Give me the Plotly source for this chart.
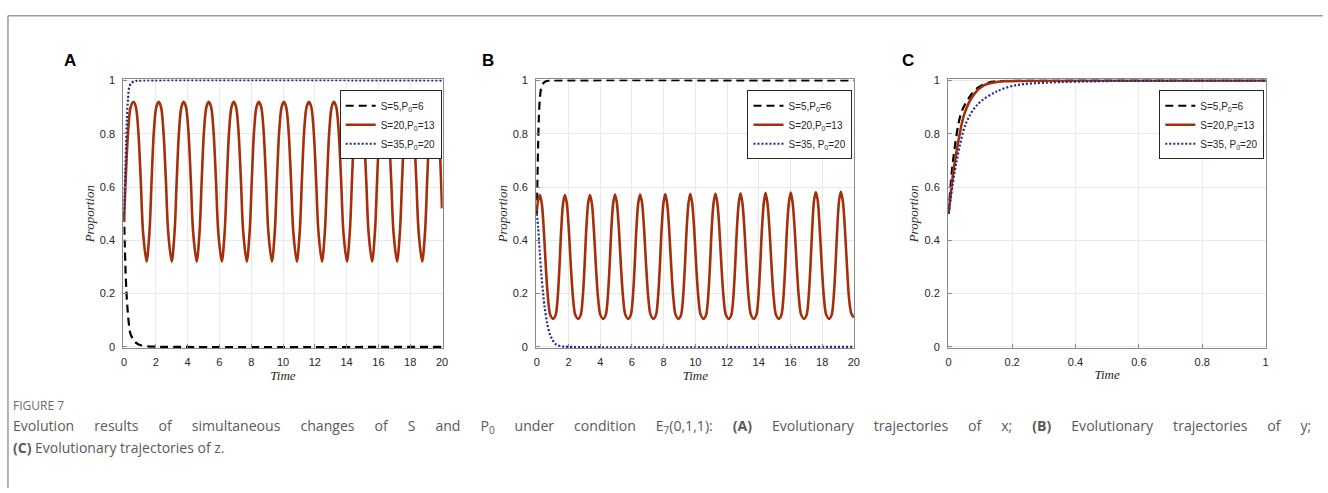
import plotly.graph_objects as go

W, H = 1328, 493

# ---------------- data ----------------
# Panel A : trajectories of x, Time 0..20
a_black_t = [0, 0.05, 0.1, 0.15, 0.2, 0.3, 0.4, 0.6, 0.8, 1.0, 1.5, 2.0, 20]
a_black_v = [0.5, 0.38, 0.28, 0.21, 0.16, 0.09, 0.05, 0.025, 0.013, 0.007, 0.002, 0.0005, 0]

a_red_t = [0, 0.10, 0.25, 0.42,
           0.60, 0.75, 0.90, 1.05, 1.20, 1.42, 1.60, 1.74, 1.88, 2.03,
           2.18, 2.33, 2.48, 2.63, 2.78, 3.00, 3.18, 3.32, 3.46, 3.61,
           3.75, 3.90, 4.05, 4.20, 4.35, 4.57, 4.75, 4.89, 5.03, 5.18,
           5.33, 5.48, 5.63, 5.78, 5.93, 6.15, 6.33, 6.47, 6.61, 6.76,
           6.90, 7.05, 7.20, 7.35, 7.50, 7.72, 7.90, 8.04, 8.18, 8.33,
           8.48, 8.63, 8.78, 8.93, 9.08, 9.30, 9.48, 9.62, 9.76, 9.91,
           10.05, 10.20, 10.35, 10.50, 10.65, 10.87, 11.05, 11.19, 11.33, 11.48,
           11.63, 11.78, 11.93, 12.08, 12.23, 12.45, 12.63, 12.77, 12.91, 13.06,
           13.20, 13.35, 13.50, 13.65, 13.80, 14.02, 14.20, 14.34, 14.48, 14.63,
           14.78, 14.93, 15.08, 15.23, 15.38, 15.60, 15.78, 15.92, 16.06, 16.21,
           16.35, 16.50, 16.65, 16.80, 16.95, 17.17, 17.35, 17.49, 17.63, 17.78,
           17.93, 18.08, 18.23, 18.38, 18.53, 18.75, 18.93, 19.07, 19.21, 19.36,
           19.50, 19.65, 19.80, 20.00]
a_red_v = [0.47, 0.62, 0.80, 0.90,
           0.92, 0.90, 0.81, 0.63, 0.43, 0.32, 0.43, 0.63, 0.81, 0.90,
           0.92, 0.90, 0.81, 0.63, 0.43, 0.32, 0.43, 0.63, 0.81, 0.90,
           0.92, 0.90, 0.81, 0.63, 0.43, 0.32, 0.43, 0.63, 0.81, 0.90,
           0.92, 0.90, 0.81, 0.63, 0.43, 0.32, 0.43, 0.63, 0.81, 0.90,
           0.92, 0.90, 0.81, 0.63, 0.43, 0.32, 0.43, 0.63, 0.81, 0.90,
           0.92, 0.90, 0.81, 0.63, 0.43, 0.32, 0.43, 0.63, 0.81, 0.90,
           0.92, 0.90, 0.81, 0.63, 0.43, 0.32, 0.43, 0.63, 0.81, 0.90,
           0.92, 0.90, 0.81, 0.63, 0.43, 0.32, 0.43, 0.63, 0.81, 0.90,
           0.92, 0.90, 0.81, 0.63, 0.43, 0.32, 0.43, 0.63, 0.81, 0.90,
           0.92, 0.90, 0.81, 0.63, 0.43, 0.32, 0.43, 0.63, 0.81, 0.90,
           0.92, 0.90, 0.81, 0.63, 0.43, 0.32, 0.43, 0.63, 0.81, 0.90,
           0.92, 0.90, 0.81, 0.63, 0.43, 0.32, 0.43, 0.63, 0.81, 0.90,
           0.92, 0.90, 0.81, 0.52]

a_blue_t = [0, 0.03, 0.08, 0.13, 0.18, 0.25, 0.33, 0.45, 0.7, 1.2, 20]
a_blue_v = [0.5, 0.57, 0.65, 0.76, 0.85, 0.93, 0.975, 0.99, 0.998, 1, 1]

# Panel B : trajectories of y, Time 0..20
b_black_t = [0, 0.03, 0.08, 0.13, 0.19, 0.27, 0.36, 0.5, 0.7, 1.0, 20]
b_black_v = [0.5, 0.6, 0.75, 0.86, 0.93, 0.97, 0.985, 0.995, 0.999, 1, 1]

b_red_t = [0, 0.08,
           0.19, 0.31, 0.44, 0.57, 0.71, 0.85, 1.03, 1.19, 1.31, 1.43, 1.54, 1.66,
           1.77, 1.89, 2.02, 2.15, 2.29, 2.43, 2.61, 2.77, 2.89, 3.01, 3.12, 3.24,
           3.35, 3.47, 3.60, 3.73, 3.87, 4.01, 4.19, 4.35, 4.47, 4.59, 4.70, 4.82,
           4.93, 5.05, 5.18, 5.31, 5.45, 5.59, 5.77, 5.93, 6.05, 6.17, 6.28, 6.40,
           6.52, 6.64, 6.77, 6.90, 7.04, 7.18, 7.36, 7.52, 7.64, 7.76, 7.87, 7.99,
           8.10, 8.22, 8.35, 8.48, 8.62, 8.76, 8.94, 9.10, 9.22, 9.34, 9.45, 9.57,
           9.68, 9.80, 9.93, 10.06, 10.20, 10.34, 10.52, 10.68, 10.80, 10.92, 11.03, 11.15,
           11.27, 11.39, 11.52, 11.65, 11.79, 11.93, 12.11, 12.27, 12.39, 12.51, 12.62, 12.74,
           12.85, 12.97, 13.10, 13.23, 13.37, 13.51, 13.69, 13.85, 13.97, 14.09, 14.20, 14.32,
           14.43, 14.55, 14.68, 14.81, 14.95, 15.09, 15.27, 15.43, 15.55, 15.67, 15.78, 15.90,
           16.02, 16.14, 16.27, 16.40, 16.54, 16.68, 16.86, 17.02, 17.14, 17.26, 17.37, 17.49,
           17.60, 17.72, 17.85, 17.98, 18.12, 18.26, 18.44, 18.60, 18.72, 18.84, 18.95, 19.07,
           19.18, 19.30, 19.43, 19.56, 19.70, 19.84, 20.00]
b_red_v = [0.51, 0.55,
           0.570, 0.54, 0.44, 0.30, 0.18, 0.12, 0.105, 0.12, 0.18, 0.30, 0.44, 0.54,
           0.570, 0.54, 0.44, 0.30, 0.18, 0.12, 0.105, 0.12, 0.18, 0.30, 0.44, 0.54,
           0.570, 0.54, 0.44, 0.30, 0.18, 0.12, 0.105, 0.12, 0.18, 0.30, 0.44, 0.54,
           0.572, 0.54, 0.44, 0.30, 0.18, 0.12, 0.105, 0.12, 0.18, 0.30, 0.44, 0.54,
           0.572, 0.54, 0.44, 0.30, 0.18, 0.12, 0.105, 0.12, 0.18, 0.30, 0.44, 0.54,
           0.574, 0.54, 0.44, 0.30, 0.18, 0.12, 0.105, 0.12, 0.18, 0.30, 0.44, 0.54,
           0.575, 0.54, 0.44, 0.30, 0.18, 0.12, 0.105, 0.12, 0.18, 0.30, 0.44, 0.54,
           0.576, 0.54, 0.44, 0.30, 0.18, 0.12, 0.105, 0.12, 0.18, 0.30, 0.44, 0.54,
           0.577, 0.54, 0.44, 0.30, 0.18, 0.12, 0.105, 0.12, 0.18, 0.30, 0.44, 0.54,
           0.578, 0.54, 0.44, 0.30, 0.18, 0.12, 0.105, 0.12, 0.18, 0.30, 0.44, 0.54,
           0.579, 0.54, 0.44, 0.30, 0.18, 0.12, 0.105, 0.12, 0.18, 0.30, 0.44, 0.55,
           0.580, 0.55, 0.44, 0.30, 0.18, 0.12, 0.105, 0.12, 0.18, 0.30, 0.44, 0.55,
           0.582, 0.55, 0.45, 0.31, 0.18, 0.125, 0.11]

b_blue_t = [0, 0.08, 0.18, 0.29, 0.4, 0.5, 0.65, 0.81, 1.0, 1.23, 1.6, 2.0, 20]
b_blue_v = [0.5, 0.45, 0.36, 0.27, 0.2, 0.146, 0.09, 0.05, 0.025, 0.008, 0.002, 0, 0]

# Panel C : trajectories of z, Time 0..1
c_black_t = [0, 0.013, 0.039, 0.065, 0.091, 0.12, 0.143, 0.2, 0.3, 1]
c_black_v = [0.5, 0.69, 0.876, 0.937, 0.972, 0.99, 0.996, 0.999, 1, 1]
c_red_t = [0, 0.019, 0.05, 0.081, 0.112, 0.14, 0.174, 0.25, 0.4, 1]
c_red_v = [0.5, 0.69, 0.876, 0.95, 0.983, 0.992, 0.997, 0.999, 1, 1]
c_blue_t = [0, 0.024, 0.055, 0.091, 0.153, 0.215, 0.31, 0.5, 0.7, 1]
c_blue_v = [0.5, 0.69, 0.84, 0.91, 0.96, 0.983, 0.992, 0.998, 0.999, 1]

x_ticks_ab = [0, 2, 4, 6, 8, 10, 12, 14, 16, 18, 20]
x_ticks_c = [0, 0.2, 0.4, 0.6, 0.8, 1]
x_ticktext_c = ["0", "0.2", "0.4", "0.6", "0.8", "1"]
y_ticks = [0, 0.2, 0.4, 0.6, 0.8, 1]
y_ticktext = ["0", "0.2", "0.4", "0.6", "0.8", "1"]

names_a = ["S=5,P<sub>0</sub>=6", "S=20,P<sub>0</sub>=13", "S=35,P<sub>0</sub>=20"]
names_b = ["S=5,P<sub>0</sub>=6", "S=20,P<sub>0</sub>=13", "S=35, P<sub>0</sub>=20"]
names_c = ["S=5,P<sub>0</sub>=6", "S=20,P<sub>0</sub>=13", "S=35, P<sub>0</sub>=20"]

caption_words_1 = ["Evolution", "results", "of", "simultaneous", "changes", "of", "S", "and",
                   "P<sub>0</sub>", "under", "condition", "E<sub>7</sub>(0,1,1):", "<b>(A)</b>",
                   "Evolutionary", "trajectories", "of", "x;", "<b>(B)</b>", "Evolutionary",
                   "trajectories", "of", "y;"]
caption_line_2 = "<b>(C)</b> Evolutionary trajectories of z."

# ---------------- styling ----------------
BLACK = "#000000"
RED = "#A3300B"
BLUE = "#1E2A8C"

def px_x(v):
    return v / W

def px_y(v):
    return 1 - v / H

panels = [
    dict(ax="", leg="legend", dom=(122, 443), names=names_a,
         data=[(a_black_t, a_black_v), (a_red_t, a_red_v), (a_blue_t, a_blue_v)],
         legx=442, letter="A", lx=68),
    dict(ax="2", leg="legend2", dom=(537, 857), names=names_b,
         data=[(b_black_t, b_black_v), (b_red_t, b_red_v), (b_blue_t, b_blue_v)],
         legx=855, letter="B", lx=489),
    dict(ax="3", leg="legend3", dom=(951, 1271), names=names_c,
         data=[(c_black_t, c_black_v), (c_red_t, c_red_v), (c_blue_t, c_blue_v)],
         legx=1269, letter="C", lx=911),
]

styles = [
    dict(color=BLACK, width=2.2, dash="8px,5px"),
    dict(color=RED, width=2.6, dash="solid"),
    dict(color=BLUE, width=2.2, dash="2px,2px"),
]

fig = go.Figure()
layout = dict(
    width=W, height=H,
    margin=dict(l=0, r=0, t=0, b=0),
    paper_bgcolor="white", plot_bgcolor="white",
    showlegend=True,
)

axis_line = "#8a8a8a"
tick_font = dict(family="Liberation Sans, Arial, sans-serif", size=11, color="#262626")
title_font = dict(family="Liberation Serif, DejaVu Serif, serif", size=13, color="#262626", style="italic")

annotations = []
for p in panels:
    xa = "x" + p["ax"]
    ya = "y" + p["ax"]
    for (t, v), nm, st in zip(p["data"], p["names"], styles):
        fig.add_trace(go.Scatter(
            x=t, y=v, mode="lines", name=nm,
            line=dict(color=st["color"], width=st["width"], dash=st["dash"],
                      shape="spline", smoothing=0.9),
            xaxis=xa, yaxis=ya, legend=p["leg"], hoverinfo="skip",
        ))
    is_c = p["ax"] == "3"
    layout["xaxis" + p["ax"]] = dict(
        domain=[px_x(p["dom"][0]), px_x(p["dom"][1])],
        anchor=ya,
        range=[-0.002 if is_c else -0.04, 1.002 if is_c else 20.04],
        tickvals=x_ticks_c if is_c else x_ticks_ab,
        ticktext=x_ticktext_c if is_c else [str(v) for v in x_ticks_ab],
        showline=True, mirror=True, linecolor=axis_line, linewidth=1,
        ticks="inside", ticklen=4, tickcolor=axis_line,
        showgrid=True, gridcolor="#e9e9e9", gridwidth=1, zeroline=False,
        tickfont=tick_font, ticklabelstandoff=4,
        title=dict(text="Time", font=title_font, standoff=2),
    )
    layout["yaxis" + p["ax"]] = dict(
        domain=[px_y(350), px_y(76)],
        anchor=xa,
        range=[-0.004, 1.004],
        tickvals=y_ticks, ticktext=y_ticktext,
        showline=True, mirror=True, linecolor=axis_line, linewidth=1,
        ticks="inside", ticklen=4, tickcolor=axis_line,
        showgrid=True, gridcolor="#e9e9e9", gridwidth=1, zeroline=False,
        tickfont=tick_font, ticklabelstandoff=5,
        title=dict(text="Proportion", font=title_font, standoff=2),
    )
    layout[p["leg"]] = dict(
        x=px_x(p["legx"]), y=px_y(87), xanchor="right", yanchor="top",
        bgcolor="white", bordercolor="#262626", borderwidth=1,
        font=dict(family="Liberation Sans, Arial, sans-serif", size=10, color="#262626"),
        itemwidth=30, tracegroupgap=0,
    )
    annotations.append(dict(
        text="<b>%s</b>" % p["letter"], x=px_x(p["lx"]), y=px_y(57),
        xref="paper", yref="paper", showarrow=False, xanchor="center", yanchor="middle",
        font=dict(family="Liberation Sans, Arial, sans-serif", size=17, color="#000000"),
    ))

# justified first caption line: widened word gaps (em + four-per-em + thin space)
GAP = "\u2003\u2005\u2009"
cap_font = dict(family="Open Sans, Noto Sans, sans-serif", size=14, color="#5a5a5a")
cap_font_1 = dict(family="Open Sans, Noto Sans, sans-serif", size=14.1, color="#5a5a5a")
annotations += [
    dict(text="FIGURE 7", x=px_x(9), y=px_y(409), xref="paper", yref="paper",
         showarrow=False, xanchor="left", yanchor="middle",
         font=dict(family="Open Sans, Noto Sans, sans-serif", size=12, color="#6b6b6b")),
    dict(text=GAP.join(caption_words_1),
         x=px_x(9), y=px_y(430), xref="paper", yref="paper",
         showarrow=False, xanchor="left", yanchor="middle", font=cap_font_1),
    dict(text=caption_line_2,
         x=px_x(9), y=px_y(452), xref="paper", yref="paper",
         showarrow=False, xanchor="left", yanchor="middle", font=cap_font),
]
layout["annotations"] = annotations
layout["shapes"] = [
    dict(type="line", xref="paper", yref="paper", x0=px_x(6), x1=1, y0=px_y(11), y1=px_y(11),
         line=dict(color="#9a9a9a", width=1.5)),
    dict(type="line", xref="paper", yref="paper", x0=px_x(6), x1=px_x(6), y0=px_y(11), y1=0,
         line=dict(color="#9a9a9a", width=1.5)),
]

fig.update_layout(**layout)
fig.write_html("out.html", config={"displayModeBar": False},
               post_script="document.body.style.margin='0px';")
